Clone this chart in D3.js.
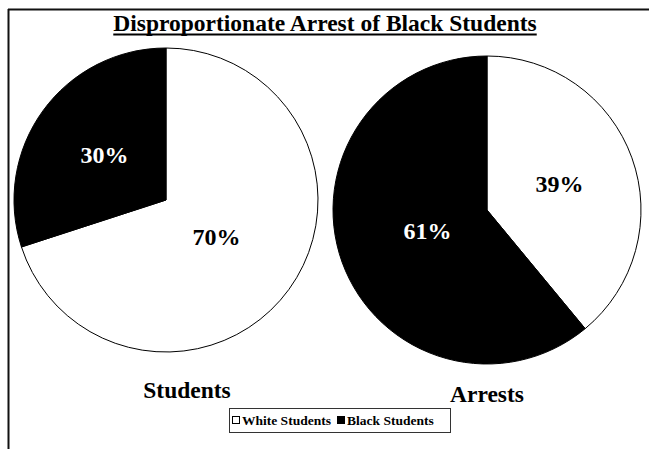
<!DOCTYPE html>
<html>
<head>
<meta charset="utf-8">
<script src="https://cdn.jsdelivr.net/npm/d3@7"></script>
<style>
  body { margin: 0; background: #fff; }
</style>
</head>
<body>
<div id="chart"></div>
<script>
// data
var categories = ["White Students", "Black Students"];
var pieNames = ["Students", "Arrests"];
var studentShares = [70, 30];
var arrestShares = [39, 61];
var colors = ["#ffffff", "#000000"];
var labelColors = ["#000000", "#ffffff"];

var width = 649, height = 449;
var serif = "'Liberation Serif', 'Times New Roman', Times, serif";

var svg = d3.select("#chart").append("svg")
    .attr("width", width)
    .attr("height", height)
    .style("font-family", serif)
    .attr("font-weight", "bold");

// frame (only top + left visible in the crop)
svg.append("line").attr("x1", 8.5).attr("y1", 9).attr("x2", 8.5).attr("y2", height)
    .attr("stroke", "#111").attr("stroke-width", 2);
svg.append("line").attr("x1", 8).attr("y1", 9.5).attr("x2", width).attr("y2", 9.5)
    .attr("stroke", "#111").attr("stroke-width", 2);

// title + underline
var title = svg.append("text")
    .attr("x", 325).attr("y", 31)
    .attr("text-anchor", "middle")
    .attr("font-size", 23.5)
    .text("Disproportionate Arrest of Black Students");
var tw = title.node().getComputedTextLength();
svg.append("line")
    .attr("x1", 325 - tw / 2).attr("x2", 325 + tw / 2)
    .attr("y1", 34.5).attr("y2", 34.5)
    .attr("stroke", "#000").attr("stroke-width", 2);

var pies = [
  {name: pieNames[0], values: studentShares, cx: 166, cy: 200, r: 152, nameX: 187, nameY: 398},
  {name: pieNames[1], values: arrestShares, cx: 487, cy: 210, r: 154, nameX: 487, nameY: 402}
];

var pie = d3.pie().sort(null).value(function(d){ return d; });

pies.forEach(function(p){
    var g = svg.append("g").attr("transform", "translate(" + p.cx + "," + p.cy + ")");
    var arc = d3.arc().innerRadius(0).outerRadius(p.r);
    var arcs = pie(p.values);

    g.selectAll("path")
        .data(arcs)
        .enter()
        .append("path")
        .attr("d", arc)
        .attr("fill", function(d, i){ return colors[i]; })
        .attr("stroke", "#000")
        .attr("stroke-width", 1);

    g.selectAll(".lbl")
        .data(arcs)
        .enter()
        .append("text")
        .attr("class", "lbl")
        .attr("transform", function(d){
            var frac = d.value > 50 ? 0.41 : 0.5;
            var la = d3.arc().innerRadius(p.r * frac).outerRadius(p.r * frac);
            return "translate(" + la.centroid(d) + ")";
        })
        .attr("text-anchor", "middle")
        .attr("dominant-baseline", "central")
        .attr("font-size", 24)
        .attr("fill", function(d, i){ return labelColors[i]; })
        .text(function(d){ return d.value + "%"; });

    svg.append("text")
        .attr("x", p.nameX).attr("y", p.nameY)
        .attr("text-anchor", "middle")
        .attr("font-size", 23.5)
        .text(p.name);
});

// legend
var legend = svg.append("g");
legend.append("rect")
    .attr("x", 229.5).attr("y", 408.5).attr("width", 221).attr("height", 24)
    .attr("fill", "#fff").attr("stroke", "#333").attr("stroke-width", 1);

var legX = [232, 337];
var items = legend.selectAll(".item")
    .data(categories)
    .enter()
    .append("g")
    .attr("transform", function(d, i){ return "translate(" + legX[i] + ",420)"; });
items.append("rect")
    .attr("x", 0.5).attr("y", -3.5).attr("width", 7).attr("height", 7)
    .attr("fill", function(d, i){ return colors[i]; })
    .attr("stroke", "#000").attr("stroke-width", 1);
items.append("text")
    .attr("x", 10).attr("y", 5)
    .attr("font-size", 13.5)
    .text(function(d){ return d; });
</script>
</body>
</html>
